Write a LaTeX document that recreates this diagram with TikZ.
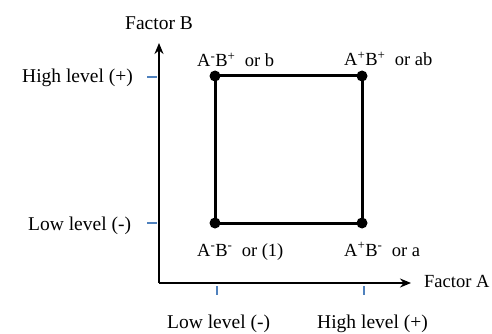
\documentclass[tikz,border=0pt]{standalone}
\usepackage{fontspec}
\setmainfont{Liberation Serif}
\usetikzlibrary{arrows.meta}
\definecolor{tickblue}{RGB}{79,129,189}
\begin{document}
\begin{tikzpicture}[x=1pt,y=-1pt,
  lbl/.style={anchor=base west,inner sep=0pt,font=\fontsize{18.5}{22}\selectfont},
  albl/.style={anchor=base west,inner sep=0pt,font=\fontsize{19.5}{23}\selectfont},
  corner/.style={circle,fill=black,inner sep=0pt,minimum size=11pt},
  axis/.style={line width=2pt,-{Stealth[length=11pt,width=9pt]}},
  sq/.style={line width=3pt},
  tick/.style={line width=2.8pt,tickblue}]
\useasboundingbox[fill=white] (0,0) rectangle (492,334);
% axes
\coordinate (O) at (159,283);
\coordinate (ytip) at (159,43);
\coordinate (xtip) at (411,283);
\draw[axis] (O) -- (ytip);
\draw[axis] (O) -- (xtip);
% square corners
\node[corner] (mm) at (215,223) {};
\node[corner] (pm) at (362,223) {};
\node[corner] (mp) at (215,76) {};
\node[corner] (pp) at (362,76) {};
\draw[sq] (mm.center) -- (pm.center) -- (pp.center) -- (mp.center) -- cycle;
% ticks
\coordinate (t1a) at (147,77); \coordinate (t1b) at (157,77);
\coordinate (t2a) at (147,223); \coordinate (t2b) at (157,223);
\coordinate (t3a) at (217,286); \coordinate (t3b) at (217,295);
\coordinate (t4a) at (364,286); \coordinate (t4b) at (364,295);
\draw[tick] (t1a) -- (t1b);
\draw[tick] (t2a) -- (t2b);
\draw[tick] (t3a) -- (t3b);
\draw[tick] (t4a) -- (t4b);
% labels
\node[albl] (fb) at (125,30) {Factor B};
\node[lbl] (fa) at (424,287) {Factor A};
\node[albl] (hy) at (22,83) {High level (+)};
\node[albl] (ly) at (28,230) {Low level (-)};
\node[albl] (lx) at (167,328) {Low level (-)};
\node[albl] (hx) at (317,328) {High level (+)};
\node[lbl] (lmp) at (197,67) {A\textsuperscript{-}B\textsuperscript{+}\ \ or b};
\node[lbl] (lpp) at (344,66) {A\textsuperscript{+}B\textsuperscript{+}\ \ or ab};
\node[lbl] (lmm) at (197,256) {A\textsuperscript{-}B\textsuperscript{-}\ \ or (1)};
\node[lbl] (lpm) at (344,256) {A\textsuperscript{+}B\textsuperscript{-}\ \ or a};
\end{tikzpicture}
\end{document}
